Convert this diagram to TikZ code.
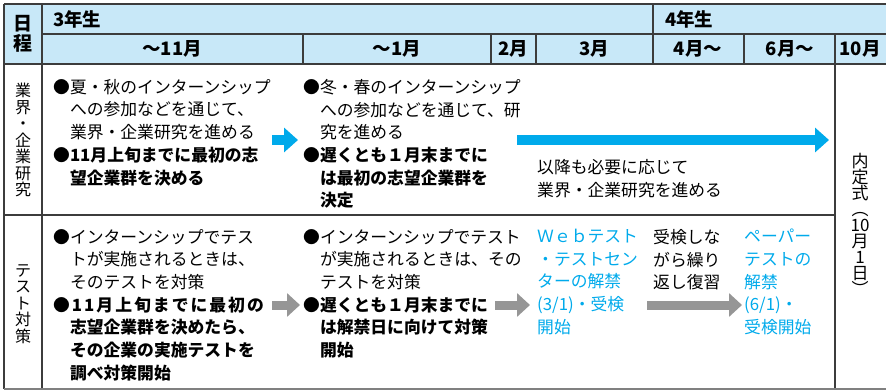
\documentclass[tikz,border=0pt]{standalone}
\usepackage{fontspec}
\setmainfont{Noto Sans CJK JP}
\usetikzlibrary{arrows.meta}
\definecolor{headblue}{RGB}{200,232,248}
\definecolor{gridgray}{RGB}{60,60,60}
\definecolor{accentcyan}{RGB}{0,170,235}
\definecolor{arrowgray}{RGB}{150,150,150}

\begin{document}
\begin{tikzpicture}[x=1pt, y=-1pt,
    grid/.style={line width=1.5pt, gridgray},
    head/.style={font=\fontsize{18.5}{20}\selectfont\bfseries, inner sep=0pt},
    body/.style={font=\fontsize{16.8}{22.7}\selectfont, align=left, anchor=north west, inner sep=0pt},
    side/.style={font=\fontsize{16}{16.5}\selectfont, align=center, inner sep=0pt},
    fatblue/.style={line width=10pt, accentcyan, -{Triangle[length=14pt,width=24pt]}},
    fatgray/.style={line width=9pt, arrowgray, -{Triangle[length=13pt,width=23pt]}}]
    \useasboundingbox (0,0) rectangle (886,390);

    % Header background
    \fill[headblue] (4,4) rectangle (886,64);

    % Header texts
    \node[head, font=\fontsize{19}{19.5}\selectfont\bfseries, align=center] (nittei) at (23,34) {日\\程};
    \node[head, anchor=west] (nen3) at (53,19) {3年生};
    \node[head, anchor=west] (nen4) at (665,19) {4年生};
    \node[head] (m11) at (172,49) {～11月};
    \node[head] (m1) at (397,49) {～1月};
    \node[head] (m2) at (513,49) {2月};
    \node[head] (m3) at (594,49) {3月};
    \node[head] (m4) at (698,49) {4月～};
    \node[head] (m6) at (790,49) {6月～};
    \node[head] (m10) at (860,49) {10月};

    % Row labels
    \node[side] (gyokai) at (23,140) {業\\界\\・\\企\\業\\研\\究};
    \node[side] (taisaku) at (23,304) {テ\\ス\\ト\\対\\策};

    % Industry research row
    \node[body] (ind1) at (53,79) {●夏・秋のインターンシップ\\\hspace*{1em}への参加などを通じて、\\\hspace*{1em}業界・企業研究を進める\\\textbf{●11月上旬までに最初の志}\\\textbf{\hspace*{1em}望企業群を決める}};
    \node[body] (ind2) at (303,79) {●冬・春のインターンシップ\\\hspace*{1em}への参加などを通じて、研\\\hspace*{1em}究を進める\\\textbf{●遅くとも１月末までに}\\\textbf{\hspace*{1em}は最初の志望企業群を}\\\textbf{\hspace*{1em}決定}};
    \node[body] (ind3) at (537,159) {以降も必要に応じて\\業界・企業研究を進める};
    \coordinate (b1s) at (272,140);
    \coordinate (b1e) at (298,140);
    \coordinate (b2s) at (517,140);
    \coordinate (b2e) at (829,140);
    \draw[fatblue] (b1s) -- (b1e);
    \draw[fatblue] (b2s) -- (b2e);

    % Test row
    \node[body] (tst1) at (53,229) {●インターンシップでテス\\\hspace*{1em}トが実施されるときは、\\\hspace*{1em}そのテストを対策\\\textbf{\addfontfeature{LetterSpace=12}●11月上旬までに最初の}\\\textbf{\hspace*{1em}志望企業群を決めたら、}\\\textbf{\hspace*{1em}その企業の実施テストを}\\\textbf{\hspace*{1em}調べ対策開始}};
    \node[body] (tst2) at (303,229) {●インターンシップでテスト\\\hspace*{1em}が実施されるときは、その\\\hspace*{1em}テストを対策\\\textbf{●遅くとも１月末までに}\\\textbf{\hspace*{1em}は解禁日に向けて対策}\\\textbf{\hspace*{1em}開始}};
    \node[body, accentcyan] (web) at (537,229) {Ｗｅｂテスト\\・テストセン\\ターの解禁\\(3/1)・受検\\開始};
    \node[body] (fukushu) at (653,229) {受検しな\\がら繰り\\返し復習};
    \node[body, accentcyan] (paper) at (744,229) {ペーパー\\テストの\\解禁\\(6/1)・\\受検開始};
    \coordinate (g1s) at (272,305);
    \coordinate (g1e) at (300,305);
    \coordinate (g2s) at (495,305);
    \coordinate (g2e) at (530,305);
    \coordinate (g3s) at (647,305);
    \coordinate (g3e) at (742,305);
    \draw[fatgray] (g1s) -- (g1e);
    \draw[fatgray] (g2s) -- (g2e);
    \draw[fatgray] (g3s) -- (g3e);

    % Ceremony column
    \node[font=\fontsize{17}{16}\selectfont, align=center, inner sep=0pt] (naitei) at (860,224) {内\\定\\式\\︵\\10\\月\\1\\日\\︶};

    % Grid
    \draw[grid] (4,4) -- (886,4);
    \draw[grid] (42,34) -- (886,34);
    \draw[grid] (4,64) -- (886,64);
    \draw[grid] (4,215) -- (835,215);
    \draw[grid] (4,4) -- (4,389);
    \draw[grid] (42,4) -- (42,389);
    \draw[grid] (303,34) -- (303,64);
    \draw[grid] (491,34) -- (491,64);
    \draw[grid] (536,34) -- (536,64);
    \draw[grid] (653,4) -- (653,64);
    \draw[grid] (744,34) -- (744,64);
    \draw[grid] (835,34) -- (835,389);
    \draw[grid, gray] (4,389) -- (886,389);
\end{tikzpicture}
\end{document}
